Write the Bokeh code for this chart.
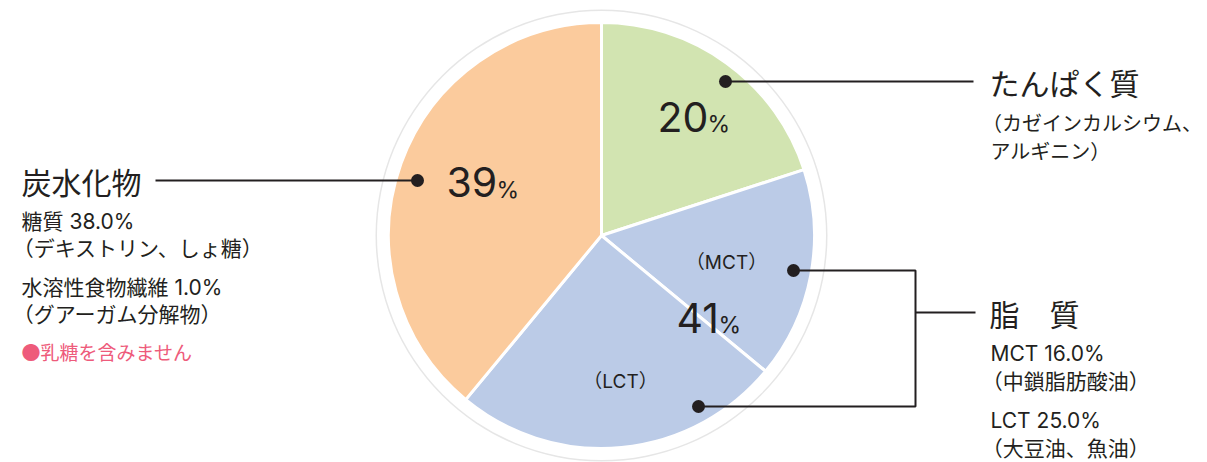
import math
from bokeh.plotting import figure
from bokeh.models import Range1d, ColumnDataSource
from bokeh.core.properties import value
from bokeh.embed import file_html
from bokeh.resources import INLINE

# ---- data ----
segments = ["たんぱく質", "MCT", "LCT", "炭水化物"]
shares = [20.0, 16.0, 25.0, 39.0]
colors = ["#D2E4B1", "#BBCBE7", "#BBCBE7", "#FBCB9D"]
big_labels = ["20", "41", "39"]

left_title = "炭水化物"
left_lines = ["糖質 38.0%", "（デキストリン、しょ糖）", "水溶性食物繊維 1.0%", "（グアーガム分解物）"]
left_note = "●乳糖を含みません"
top_title = "たんぱく質"
top_lines = ["（カゼインカルシウム、", "アルギニン）"]
fat_title = "脂　質"
fat_lines = ["MCT 16.0%", "（中鎖脂肪酸油）", "LCT 25.0%", "（大豆油、魚油）"]
sub_labels = ["（MCT）", "（LCT）"]

W, H = 1207, 462
def Y(yi):
    return H - yi

p = figure(width=W, height=H, output_backend="svg", toolbar_location=None,
           x_range=Range1d(0, W), y_range=Range1d(0, H),
           x_axis_location=None, y_axis_location=None, min_border=0)
p.grid.visible = False
p.outline_line_color = None
p.background_fill_color = "white"

CX, CY, R = 601, Y(235), 213
INK = "#231F20"
JP = value("Noto Sans CJK JP")
MIX = value("Inter, Noto Sans CJK JP")
LAT = value("Inter")

# outer ring
p.circle(x=[CX], y=[CY], radius=226, fill_color="#E6E6E6", line_color=None)
p.circle(x=[CX], y=[CY], radius=224.5, fill_color="white", line_color=None)

# wedges, clockwise from top
starts, ends = [], []
a = math.pi / 2
for v in shares:
    th = v / 100.0 * 2 * math.pi
    starts.append(a - th)
    ends.append(a)
    a -= th
src = ColumnDataSource(dict(s=starts, e=ends, c=colors))
p.wedge(x=CX, y=CY, radius=R, start_angle="s", end_angle="e", fill_color="c",
        line_color="white", line_width=3, source=src)

# leader lines
p.line(x=[725, 973], y=[Y(81), Y(81)], line_color=INK, line_width=2)
p.line(x=[155, 417], y=[Y(180), Y(180)], line_color=INK, line_width=2)
p.line(x=[793, 915, 915, 698], y=[Y(270), Y(270), Y(406), Y(406)], line_color=INK, line_width=2)
p.line(x=[915, 975], y=[Y(312), Y(312)], line_color=INK, line_width=2)
p.scatter(x=[725, 417, 793, 698], y=[Y(81), Y(180), Y(270), Y(406)], size=13, marker="circle",
          fill_color=INK, line_color=None)

# big percentages
p.text(x=[657, 676, 446], y=[Y(116), Y(317), Y(181)], text=big_labels, text_font=LAT,
       text_font_size="41px", text_color=INK, text_baseline="middle", text_align="left")
p.text(x=[707, 718, 496], y=[Y(123), Y(324), Y(189)], text=["%", "%", "%"], text_font=LAT,
       text_font_size="23px", text_color=INK, text_baseline="middle", text_align="left")
p.text(x=[726, 620], y=[Y(262), Y(381)], text=sub_labels, text_font=MIX,
       text_font_size="19px", text_color=INK, text_baseline="middle", text_align="center")

# titles
p.text(x=[21, 989, 989], y=[Y(180), Y(81), Y(312)], text=[left_title, top_title, fat_title],
       text_font=JP, text_font_size="30px", text_color=INK, text_baseline="middle")

# sub texts (lines opening with a full-width bracket are pulled left so the bracket aligns)
def xs(base, lines, size):
    return [base - (0.42 * size if s.startswith("（") else 0) for s in lines]

p.text(x=xs(21, left_lines, 21), y=[Y(221), Y(248), Y(287), Y(314)], text=left_lines, text_font=MIX,
       text_font_size="21px", text_color=INK, text_baseline="middle")
p.text(x=xs(990, top_lines, 20), y=[Y(123), Y(151)], text=top_lines, text_font=MIX,
       text_font_size="20px", text_color=INK, text_baseline="middle")
p.text(x=xs(990, fat_lines, 21), y=[Y(353), Y(381), Y(420), Y(448)], text=fat_lines, text_font=MIX,
       text_font_size="21px", text_color=INK, text_baseline="middle")
p.text(x=[21], y=[Y(351)], text=[left_note], text_font=JP,
       text_font_size="19px", text_color="#EE5B7B", text_baseline="middle")

open("out.html", "w").write(file_html(p, INLINE))
